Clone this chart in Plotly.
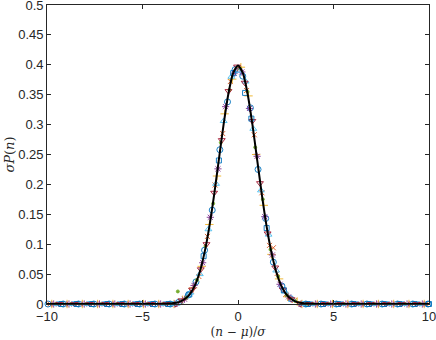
import plotly.graph_objects as go

# black curve
curve_x = [-10, -4.5, -4, -3.75, -3.5, -3.25, -3, -2.75, -2.5, -2.25, -2, -1.75, -1.5, -1.25, -1, -0.75,
           -0.5, -0.25, 0, 0.25, 0.5, 0.75, 1, 1.25, 1.5, 1.75, 2, 2.25, 2.5, 2.75, 3, 3.25, 3.5,
           3.75, 4, 4.5, 10]
curve_y = [0, 0, 0.0001, 0.0004, 0.0009, 0.002, 0.0044, 0.0091, 0.0175, 0.0317, 0.054, 0.0863,
           0.1295, 0.1826, 0.242, 0.3011, 0.3521, 0.3867, 0.3989, 0.3867, 0.3521, 0.3011, 0.242,
           0.1826, 0.1295, 0.0863, 0.054, 0.0317, 0.0175, 0.0091, 0.0044, 0.002, 0.0009, 0.0004,
           0.0001, 0, 0]

# scattered data sets
s1_x = [-3.1, -2.6, -2.2, -1.75, -1.35, -0.95, -0.55, -0.15, 0.25, 0.65, 1.05, 1.45, 1.85, 2.3, 2.75]
s1_y = [0.003, 0.015, 0.037, 0.090, 0.157, 0.258, 0.338, 0.392, 0.381, 0.328, 0.225, 0.143, 0.070, 0.030, 0.009]
s2_x = [-3.0, -2.45, -2.05, -1.6, -1.2, -0.8, -0.4, 0.05, 0.45, 0.85, 1.25, 1.65, 1.85, 2.05, 2.5, 2.95]
s2_y = [0.005, 0.022, 0.046, 0.113, 0.199, 0.285, 0.372, 0.393, 0.357, 0.283, 0.186, 0.098, 0.094, 0.051, 0.016, 0.006]
s3_x = [-2.9, -2.35, -1.9, -1.5, -1.1, -0.7, -0.3, 0.15, 0.55, 0.95, 1.35, 1.75, 2.15, 2.6, 3.1]
s3_y = [0.007, 0.027, 0.063, 0.133, 0.214, 0.318, 0.376, 0.396, 0.348, 0.250, 0.165, 0.083, 0.042, 0.012, 0.004]
s4_x = [-2.8, -2.3, -1.85, -1.45, -1.05, -0.65, -0.2, 0.2, 0.6, 1.0, 1.4, 1.8, 2.2, 2.65]
s4_y = [0.008, 0.031, 0.069, 0.145, 0.226, 0.330, 0.386, 0.388, 0.327, 0.247, 0.146, 0.082, 0.033, 0.012]
s5_x = [-3.15, -2.7, -2.15, -1.7, -1.3, -0.9, -0.45, 0.1, 0.5, 0.9, 1.3, 1.7, 2.1, 2.55, 3.0]
s5_y = [0.021, 0.011, 0.040, 0.097, 0.168, 0.270, 0.358, 0.394, 0.355, 0.262, 0.175, 0.091, 0.046, 0.015, 0.005]
s6_x = [-3.05, -2.5, -2.0, -1.55, -1.15, -0.75, -0.35, 0.0, 0.4, 0.8, 1.2, 1.6, 2.0, 2.45, 2.85]
s6_y = [0.004, 0.019, 0.050, 0.125, 0.201, 0.306, 0.380, 0.390, 0.372, 0.293, 0.190, 0.116, 0.056, 0.021, 0.007]
s7_x = [-2.95, -2.4, -1.95, -1.65, -1.25, -0.85, -0.5, -0.05, 0.35, 0.75, 1.15, 1.55, 1.95, 2.35, 2.8]
s7_y = [0.006, 0.024, 0.058, 0.100, 0.186, 0.274, 0.356, 0.397, 0.370, 0.306, 0.202, 0.118, 0.061, 0.024, 0.008]
s8_x = [-2.55, -1.8, -1.0, -0.25, 0.37, 0.7, 1.5, 2.4]
s8_y = [0.016, 0.080, 0.240, 0.386, 0.353, 0.310, 0.127, 0.023]

# flat tails (values at ~0)
t1_x = [-9.95, -9.15, -8.35, -7.55, -6.75, -5.95, -5.15, -4.35, -3.55, 3.55, 4.35, 5.15, 5.95, 6.75, 7.55, 8.35, 9.15, 9.95]
t2_x = [-9.85, -9.05, -8.25, -7.45, -6.65, -5.85, -5.05, -4.25, -3.45, 3.45, 4.25, 5.05, 5.85, 6.65, 7.45, 8.25, 9.05, 9.85]
t3_x = [-9.75, -8.95, -8.15, -7.35, -6.55, -5.75, -4.95, -4.15, -3.35, 3.35, 4.15, 4.95, 5.75, 6.55, 7.35, 8.15, 8.95, 9.75]
t4_x = [-9.65, -8.85, -8.05, -7.25, -6.45, -5.65, -4.85, -4.05, -3.3, 3.3, 4.05, 4.85, 5.65, 6.45, 7.25, 8.05, 8.85, 9.65]
t5_x = [-9.55, -8.75, -7.95, -7.15, -6.35, -5.55, -4.75, -3.95, -3.5, 3.6, 3.95, 4.75, 5.55, 6.35, 7.15, 7.95, 8.75, 9.55]
t6_x = [-9.45, -8.65, -7.85, -7.05, -6.25, -5.45, -4.65, -3.85, -3.4, 3.4, 3.85, 4.65, 5.45, 6.25, 7.05, 7.85, 8.65, 9.45]
t7_x = [-9.35, -8.55, -7.75, -6.95, -6.15, -5.35, -4.55, -3.75, -3.25, 3.25, 3.75, 4.55, 5.35, 6.15, 6.95, 7.75, 8.55, 9.35]
t8_x = [-9.25, -8.45, -7.65, -6.85, -6.05, -5.25, -4.45, -3.65, 3.65, 4.45, 5.25, 6.05, 6.85, 7.65, 8.45, 9.25, 10.0]

colors = ['#0072BD', '#D95319', '#EDB120', '#7E2F8E', '#77AC30', '#4DBEEE', '#A2142F', '#0072BD']
symbols = ['circle-open', 'x-thin-open', 'cross-thin-open', 'asterisk-open', 'circle',
           'triangle-up-open', 'triangle-down-open', 'square-open']
sizes = [6, 5, 6, 6, 3, 6, 6, 5]

sets = [(s1_x, s1_y, t1_x), (s2_x, s2_y, t2_x), (s3_x, s3_y, t3_x), (s4_x, s4_y, t4_x),
        (s5_x, s5_y, t5_x), (s6_x, s6_y, t6_x), (s7_x, s7_y, t7_x), (s8_x, s8_y, t8_x)]

fig = go.Figure()
for i, (sx, sy, tx) in enumerate(sets):
    fig.add_trace(go.Scatter(
        x=tx + sx, y=[0] * len(tx) + sy, mode='markers', cliponaxis=False,
        marker=dict(symbol=symbols[i], color=colors[i], size=sizes[i],
                    line=dict(width=0.9, color=colors[i])),
        showlegend=False))

fig.add_trace(go.Scatter(x=curve_x, y=curve_y, mode='lines',
                         line=dict(color='black', width=2, shape='spline', smoothing=0.6),
                         showlegend=False))

axis_common = dict(showgrid=False, zeroline=False, showline=True, mirror='ticks',
                   linecolor='#262626', linewidth=0.8, ticks='inside', ticklen=4,
                   tickcolor='#262626', tickwidth=0.8, automargin=False,
                   ticklabeloverflow='allow',
                   tickfont=dict(family='Liberation Sans, Arial', size=13, color='#262626'))

fig.update_layout(
    width=436, height=340,
    margin=dict(l=47, r=7, t=5, b=36),
    plot_bgcolor='white', paper_bgcolor='white',
    xaxis=dict(range=[-10, 10], tickvals=[-10, -5, 0, 5, 10],
               title=dict(text='(<i>n</i> \u2212 <i>\u03bc</i>)/<i>\u03c3</i>', standoff=5,
                          font=dict(family='DejaVu Serif', size=12, color='#262626')),
               **axis_common),
    yaxis=dict(range=[0, 0.5], tickvals=[0, 0.05, 0.1, 0.15, 0.2, 0.25, 0.3, 0.35, 0.4, 0.45, 0.5],
               ticktext=['0', '0.05', '0.1', '0.15', '0.2', '0.25', '0.3', '0.35', '0.4', '0.45', '0.5'],
               title=dict(text='<i>\u03c3P</i>(<i>n</i>)', standoff=0,
                          font=dict(family='DejaVu Serif', size=13, color='#262626')),
               **axis_common),
)

fig.write_html("out.html", config={'displayModeBar': False},
               post_script="document.body.style.margin='0';document.body.style.overflow='hidden';")
